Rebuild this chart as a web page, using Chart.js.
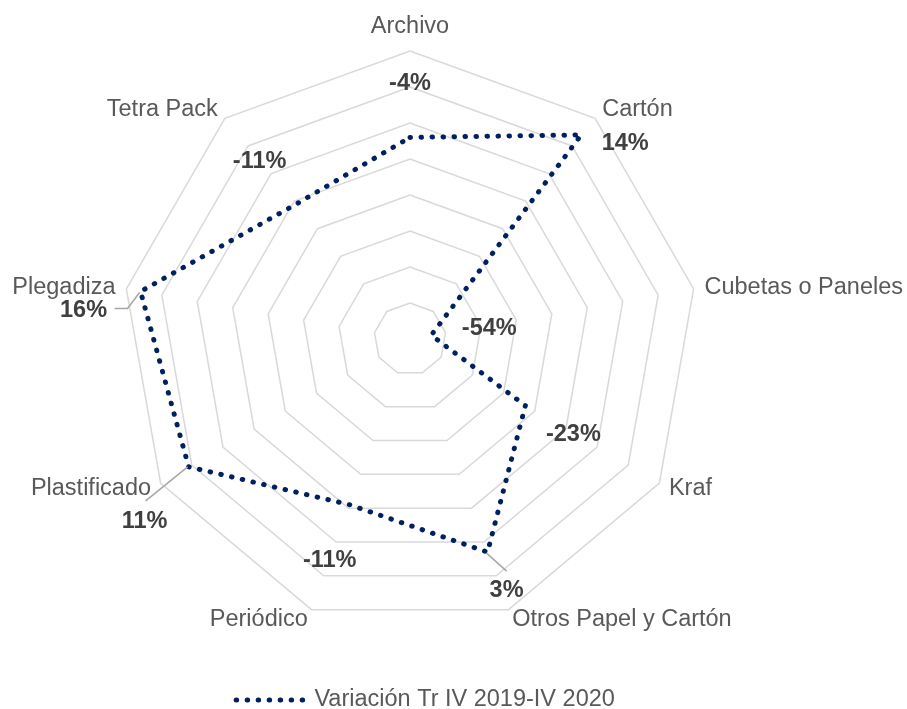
<!DOCTYPE html>
<html>
<head>
<meta charset="utf-8">
<script src="https://cdn.jsdelivr.net/npm/chart.js@4.4.1/dist/chart.umd.min.js"></script>
<style>
html,body{margin:0;padding:0;background:#ffffff;}
#wrap{width:907px;height:709px;position:relative;}
</style>
</head>
<body>
<div id="wrap"><canvas id="c"></canvas></div>
<script>
// ---- data ----
const categories = ['Archivo', 'Cartón', 'Cubetas o Paneles', 'Kraf', 'Otros Papel y Cartón', 'Periódico', 'Plastificado', 'Plegadiza', 'Tetra Pack'];
const seriesName = 'Variación Tr IV 2019-IV 2020';
const variation = [-4, 14, -54, -23, 3, -11, 11, 16, -11];
const axisTicks = [-60, -50, -40, -30, -20, -10, 0, 10, 20];
const dataLabels = variation.map(v => v + '%');

// ---- label placement (pixel offsets from each data point) ----
const labelOffsets = [[0, -54], [44, 9], [58, -7], [48, 29], [19, 38], [-20, 56], [-44, 55], [-57, 19], [-37, -42]];
const leaderLines = {4: [[-1, 1], [19, 19]], 6: [[-43, 34], [-1, 0]], 7: [[-26, 17], [-13, 17], [-1, 1]]};

const FONT = 'Arial, "Liberation Sans", sans-serif';
Chart.defaults.font.family = FONT;

const labelPlugin = {
  id: 'excelLabels',
  afterDatasetsDraw(chart) {
    const s = chart.scales.r;
    const ctx = chart.ctx;
    ctx.save();
    // leader lines
    ctx.strokeStyle = '#a6a6a6';
    ctx.lineWidth = 1.5;
    Object.keys(leaderLines).forEach(k => {
      const i = +k;
      const p = s.getPointPositionForValue(i, variation[i]);
      ctx.beginPath();
      leaderLines[k].forEach(([dx, dy], j) => {
        if (j === 0) ctx.moveTo(p.x + dx, p.y + dy); else ctx.lineTo(p.x + dx, p.y + dy);
      });
      ctx.stroke();
    });
    // data labels
    ctx.font = 'bold 23.5px ' + FONT;
    ctx.fillStyle = '#404040';
    ctx.textAlign = 'center';
    ctx.textBaseline = 'middle';
    variation.forEach((v, i) => {
      const p = s.getPointPositionForValue(i, v);
      ctx.fillText(dataLabels[i], p.x + labelOffsets[i][0], p.y + labelOffsets[i][1]);
    });
    // category labels
    ctx.font = '23.5px ' + FONT;
    ctx.fillStyle = '#595959';
    categories.forEach((c, i) => {
      const ang = s.getIndexAngle(i);
      const sn = Math.sin(ang), cs = Math.cos(ang);
      const p = s.getPointPosition(i, s.drawingArea + 11);
      let y = p.y;
      if (Math.abs(sn) < 0.1) {
        ctx.textAlign = 'center';
        y -= 13 * Math.sign(cs);
      } else {
        ctx.textAlign = sn > 0 ? 'left' : 'right';
      }
      ctx.fillText(c, p.x, y);
    });
    ctx.restore();
  }
};

new Chart(document.getElementById('c'), {
  type: 'radar',
  data: {
    labels: categories,
    datasets: [{
      label: seriesName,
      data: variation,
      borderColor: '#002060',
      backgroundColor: 'rgba(0,0,0,0)',
      borderWidth: 5,
      borderDash: [0.5, 10.5],
      borderCapStyle: 'round',
      borderJoinStyle: 'round',
      pointRadius: 0,
      pointHoverRadius: 0,
      fill: false,
      tension: 0
    }]
  },
  options: {
    responsive: true,
    maintainAspectRatio: false,
    animation: false,
    layout: {padding: {left: 122, right: 178, top: 51, bottom: -12.75}},
    scales: {
      r: {
        min: axisTicks[0],
        max: axisTicks[axisTicks.length - 1],
        ticks: {display: false, stepSize: axisTicks[1] - axisTicks[0]},
        grid: {color: '#d9d9d9', lineWidth: 1.5},
        angleLines: {display: false},
        pointLabels: {display: false}
      }
    },
    plugins: {
      legend: {
        position: 'bottom',
        labels: {
          usePointStyle: true,
          pointStyle: 'line',
          pointStyleWidth: 66.5,
          padding: 61.25,
          color: '#595959',
          font: {size: 23.5},
          generateLabels(chart) {
            const items = Chart.defaults.plugins.legend.labels.generateLabels(chart);
            items.forEach(it => {
              const ds = chart.data.datasets[it.datasetIndex];
              it.lineDash = ds.borderDash;
              it.lineCap = ds.borderCapStyle;
              it.lineWidth = ds.borderWidth;
              it.strokeStyle = ds.borderColor;
              it.fillStyle = ds.borderColor;
            });
            return items;
          }
        }
      },
      title: {
        display: true,
        text: ' ',
        position: 'right',
        fullSize: false,
        font: {size: 10, lineHeight: 1.2},
        padding: {top: 10, bottom: 9}
      },
      tooltip: {enabled: false}
    }
  },
  plugins: [labelPlugin]
});
</script>
</body>
</html>
